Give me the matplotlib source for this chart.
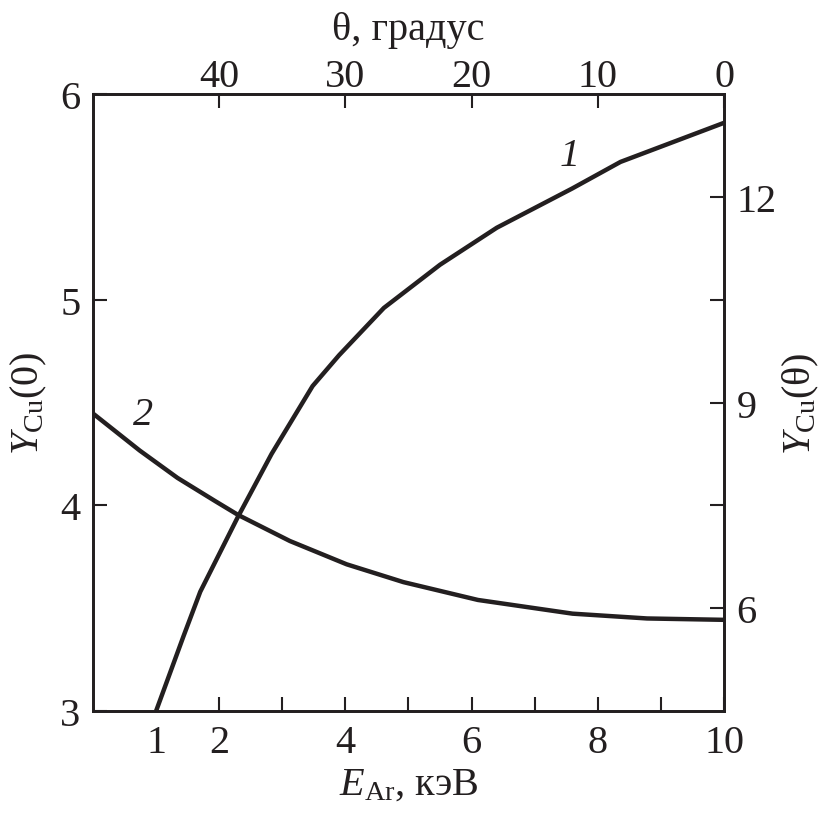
import matplotlib
matplotlib.use("Agg")
import matplotlib.pyplot as plt

plt.rcParams['font.family'] = ['Liberation Serif', 'DejaVu Serif']
plt.rcParams['mathtext.fontset'] = 'custom'
plt.rcParams['mathtext.rm'] = 'Liberation Serif'
plt.rcParams['mathtext.it'] = 'Liberation Serif:italic'

# Curve 1: Y_Cu(0) vs E_Ar (left / bottom axes)
E_keV = [1.0, 1.43, 1.70, 2.29, 2.83, 3.48, 3.9, 4.61, 5.5, 6.4, 7.59, 8.36, 10.0]
Y0 = [3.0, 3.36, 3.58, 3.94, 4.25, 4.58, 4.73, 4.96, 5.17, 5.35, 5.54, 5.67, 5.86]

# Curve 2: Y_Cu(theta) vs theta (right / top axes)
theta_deg = [50, 46.3, 43.3, 40.3, 38.5, 34.4, 29.9, 25.4, 19.5, 12.0, 6.1, 0]
Ytheta = [8.84, 8.30, 7.90, 7.56, 7.36, 6.98, 6.64, 6.38, 6.12, 5.92, 5.85, 5.83]

bottom_ticks = [1, 2, 4, 6, 8, 10]
bottom_minor = [3, 5, 7, 9]
left_ticks = [3, 4, 5, 6]
top_ticks = [40, 30, 20, 10, 0]
right_ticks = [6, 9, 12]
right_minor = [7.5, 10.5]

INK = '#231f20'
FS = 29
LW = 3.2
SW = 1.8
TL = 10

fig = plt.figure(figsize=(8.28, 8.20), dpi=100)
ax = fig.add_axes([0.1123, 0.1317, 0.8744 - 0.1123, 0.8841 - 0.1317])
ax2 = ax.twinx()
ax3 = ax2.twiny()

ax.plot(E_keV, Y0, color=INK, lw=LW, solid_capstyle='butt')
ax.set_xlim(0, 10)
ax.set_ylim(3, 6)
ax.set_xticks(bottom_ticks)
ax.set_xticklabels([str(t) for t in bottom_ticks])
ax.set_xticks(bottom_minor, minor=True)
ax.set_yticks(left_ticks)
ax.set_yticklabels([str(t) for t in left_ticks])
ax.tick_params(axis='both', which='both', direction='in', length=TL, width=1.5,
               labelsize=FS, color=INK, labelcolor=INK)
ax.tick_params(axis='x', pad=9)
ax.tick_params(axis='y', pad=9)
ax.xaxis.get_major_ticks()[0].tick1line.set_visible(False)
ax.set_xlabel(r'$E_{\mathrm{Ar}}$, кэВ', fontsize=FS, labelpad=4, color=INK)
ax.set_ylabel(r'$Y_{\mathrm{Cu}}\mathrm{(0)}$', fontsize=FS, labelpad=8, color=INK)

ax2.set_ylim(4.5, 13.5)
ax2.set_yticks(right_ticks)
ax2.set_yticklabels([str(t) for t in right_ticks])
ax2.set_yticks(right_minor, minor=True)
ax2.tick_params(axis='y', which='both', direction='in', length=TL, width=1.5,
                labelsize=FS, pad=9, color=INK, labelcolor=INK)
ax2.set_ylabel(r'$Y_{\mathrm{Cu}}\mathrm{(θ)}$', fontsize=FS, labelpad=3, color=INK)

ax3.plot(theta_deg, Ytheta, color=INK, lw=LW, solid_capstyle='butt')
ax3.set_xlim(50, 0)
ax3.set_xticks(top_ticks)
ax3.set_xticklabels([str(t) for t in top_ticks])
ax3.tick_params(axis='x', which='both', direction='in', length=TL, width=1.5,
                labelsize=FS, pad=-1, color=INK, labelcolor=INK)
ax3.set_xlabel('θ, градус', fontsize=FS, labelpad=14, color=INK)

for a in (ax, ax2, ax3):
    for s in a.spines.values():
        s.set_linewidth(SW)
        s.set_color(INK)

ax.text(7.55, 5.70, '1', fontsize=FS, style='italic', ha='center', va='center', color=INK)
ax.text(0.8, 4.44, '2', fontsize=FS, style='italic', ha='center', va='center', color=INK)

fig.savefig('out.png', dpi=100, facecolor='white')
